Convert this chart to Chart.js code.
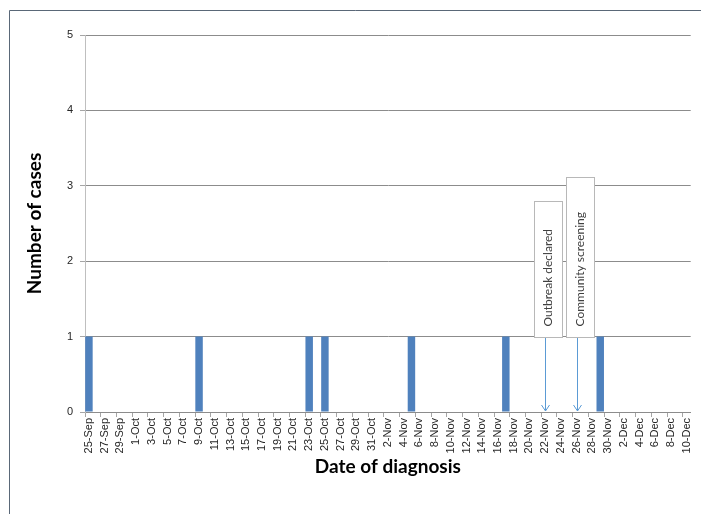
<!DOCTYPE html>
<html>
<head>
<meta charset="utf-8">
<script src="https://cdn.jsdelivr.net/npm/chart.js@4/dist/chart.umd.min.js"></script>
<style>
  html, body { margin: 0; padding: 0; background: #fff; }
  #wrap { width: 701px; height: 514px; }
</style>
</head>
<body>
<div id="wrap"><canvas id="chart" width="701" height="514"></canvas></div>
<script>
// days shown on the axis, per month
const months = ['Sep', 'Oct', 'Nov', 'Dec'];
const firstDay = [25, 1, 1, 1];
const lastDay = [30, 31, 30, 10];

// cases by date of diagnosis
const caseDates = ['25-Sep', '9-Oct', '23-Oct', '25-Oct', '5-Nov', '17-Nov', '29-Nov'];
const caseCounts = [1, 1, 1, 1, 1, 1, 1];

// events marked with arrows
const eventDates = ['22-Nov', '26-Nov'];
const eventLabels = ['Outbreak declared', 'Community screening'];
const eventBoxTop = [2.8, 3.12];

const yTicks = [0, 1, 2, 3, 4, 5];

const categories = [];
months.forEach((m, i) => {
  for (let d = firstDay[i]; d <= lastDay[i]; d++) categories.push(d + '-' + m);
});
const values = categories.map(c => {
  const k = caseDates.indexOf(c);
  return k >= 0 ? caseCounts[k] : 0;
});

const framePlugin = {
  id: 'frame',
  beforeDraw(chart) {
    const ctx = chart.ctx;
    ctx.save();
    ctx.strokeStyle = '#5a6878';
    ctx.lineWidth = 1;
    ctx.beginPath();
    ctx.moveTo(9.5, 520);
    ctx.lineTo(9.5, 10.5);
    ctx.lineTo(710, 10.5);
    ctx.stroke();
    ctx.restore();
  }
};

const eventPlugin = {
  id: 'events',
  afterDatasetsDraw(chart) {
    const ctx = chart.ctx;
    const x = chart.scales.x, y = chart.scales.y;
    ctx.save();
    eventDates.forEach((d, i) => {
      const px = Math.round(x.getPixelForValue(categories.indexOf(d))) + 0.5;
      const top = Math.round(y.getPixelForValue(eventBoxTop[i])) + 0.5;
      const bottom = Math.round(y.getPixelForValue(1)) + 0.5;
      const base = y.getPixelForValue(0);
      // arrow
      ctx.strokeStyle = '#5b9bd5';
      ctx.lineWidth = 1;
      ctx.beginPath();
      ctx.moveTo(px, bottom);
      ctx.lineTo(px, base - 1);
      ctx.moveTo(px - 4, base - 7);
      ctx.lineTo(px, base - 1);
      ctx.lineTo(px + 4, base - 7);
      ctx.stroke();
      // label box
      const left = px - 11, w = 28;
      ctx.fillStyle = '#ffffff';
      ctx.fillRect(left, top, w, bottom - top);
      ctx.strokeStyle = '#b8b8b8';
      ctx.strokeRect(left, top, w, bottom - top);
      ctx.translate(left + w / 2, bottom - 11);
      ctx.rotate(-Math.PI / 2);
      ctx.fillStyle = '#404040';
      ctx.font = '12px Lato';
      ctx.textAlign = 'left';
      ctx.textBaseline = 'middle';
      ctx.fillText(eventLabels[i], 0, 0);
      ctx.setTransform(1, 0, 0, 1, 0, 0);
    });
    ctx.restore();
  }
};

new Chart(document.getElementById('chart'), {
  type: 'bar',
  data: {
    labels: categories,
    datasets: [{
      label: 'Cases',
      data: values,
      backgroundColor: '#4f81bd',
      barPercentage: 0.95,
      categoryPercentage: 1.0
    }]
  },
  options: {
    responsive: false,
    animation: false,
    layout: { padding: { left: 0, top: 35, right: 6, bottom: 0 } },
    plugins: {
      legend: { display: false },
      tooltip: { enabled: false }
    },
    scales: {
      x: {
        grid: {
          offset: true,
          drawOnChartArea: false,
          drawTicks: true,
          tickLength: 5,
          color: ctx => (ctx.index % 2 === 0 ? '#a6a6a6' : 'rgba(0,0,0,0)')
        },
        border: { color: '#8c8c8c' },
        ticks: {
          autoSkip: false,
          minRotation: 90,
          maxRotation: 90,
          padding: 1,
          color: '#262626',
          font: { family: 'Liberation Sans', size: 11 },
          callback: (v, i) => (i % 2 === 0 ? categories[i] : '')
        },
        title: {
          display: true,
          text: 'Date of diagnosis',
          color: '#000',
          font: { family: 'Lato', size: 19, weight: 'bold' },
          padding: { top: 0, bottom: 36 }
        },
        afterFit: s => { s.height = 102; }
      },
      y: {
        min: 0,
        max: 5,
        afterBuildTicks: s => { s.ticks = yTicks.map(v => ({ value: v })); },
        grid: { color: '#8c8c8c', tickLength: 5, tickColor: '#a6a6a6' },
        border: { color: '#bfbfbf' },
        ticks: {
          padding: 7,
          color: '#262626',
          font: { family: 'Liberation Sans', size: 11 }
        },
        title: {
          display: true,
          text: 'Number of cases',
          color: '#000',
          font: { family: 'Lato', size: 19, weight: 'bold' },
          padding: { top: 23, bottom: 0 }
        },
        afterFit: s => { s.width = 85; }
      }
    }
  },
  plugins: [framePlugin, eventPlugin]
});
</script>
</body>
</html>
